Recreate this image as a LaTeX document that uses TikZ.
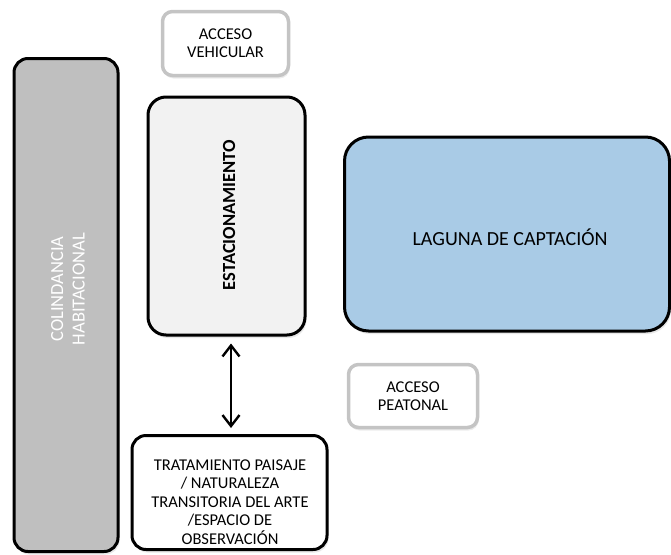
\documentclass[tikz,border=0pt]{standalone}
\usepackage{fontspec}
\setmainfont{Carlito}
\usetikzlibrary{arrows.meta,shadows}
\definecolor{colgray}{HTML}{BFBFBF}
\definecolor{estfill}{HTML}{F2F2F2}
\definecolor{lagfill}{HTML}{A9CBE6}
\definecolor{accborder}{HTML}{C4C4C4}
\tikzset{
  darkbox/.style={draw=black, line width=3pt, rounded corners=14pt, inner sep=0pt,
     drop shadow={opacity=0.18, shadow xshift=1.5pt, shadow yshift=-3pt}},
  accbox/.style={draw=accborder, line width=3.5pt, fill=white, rounded corners=10pt, inner sep=0pt,
     align=center, font=\fontsize{16.5}{18.4}\selectfont,
     drop shadow={opacity=0.15, shadow xshift=1pt, shadow yshift=-3pt}},
  lbl/.style={align=center, inner sep=0pt},
  dblarrow/.style={line width=2.4pt, {Straight Barb[length=11pt,width=17pt,line width=2.4pt]}-{Straight Barb[length=11pt,width=17pt,line width=2.4pt]}}
}
\begin{document}
\begin{tikzpicture}[x=1pt,y=-1pt]
\useasboundingbox (0,0) rectangle (671,554);
% Colindancia
\node[darkbox, fill=colgray, minimum width=104pt, minimum height=493pt] (colin) at (66,305) {};
\node[lbl, text=white, rotate=90, font=\fontsize{18.5}{21.5}\selectfont] (colintxt) at (68,289) {COLINDANCIA\\HABITACIONAL};
% Acceso vehicular
\node[accbox, minimum width=126pt, minimum height=64pt] (acv) at (225.5,43.5) {ACCESO\\VEHICULAR};
% Estacionamiento
\node[darkbox, fill=estfill, rounded corners=18pt, minimum width=157pt, minimum height=238pt] (est) at (226.5,216) {};
\node[lbl, rotate=90, font=\fontsize{18.5}{21}\bfseries] (esttxt) at (229,215) {ESTACIONAMIENTO};
% Laguna
\node[darkbox, fill=lagfill, rounded corners=24pt, minimum width=325pt, minimum height=194pt] (lag) at (507,234) {};
\node[lbl, font=\fontsize{20}{24}\selectfont] (lagtxt) at (510,237) {LAGUNA DE CAPTACIÓN};
% Acceso peatonal
\node[accbox, minimum width=129pt, minimum height=63pt] (ap) at (413,396) {ACCESO\\PEATONAL};
% Tratamiento
\node[darkbox, fill=white, minimum width=195pt, minimum height=114pt] (tr) at (229.5,492.5) {};
\node[lbl, font=\fontsize{16.5}{18.4}\selectfont] (trtxt) at (230,502) {TRATAMIENTO PAISAJE\\/ NATURALEZA\\TRANSITORIA DEL ARTE\\/ESPACIO DE\\OBSERVACIÓN};
% Arrow
\draw[dblarrow, shorten <=7pt, shorten >=6pt] (est.south -| 231,0) -- (tr.north -| 231,0);
\end{tikzpicture}
\end{document}
